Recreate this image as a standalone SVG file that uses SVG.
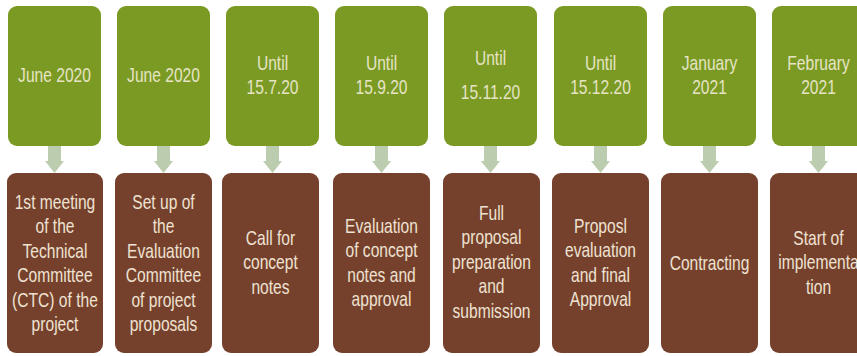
<svg xmlns="http://www.w3.org/2000/svg" width="857" height="356" viewBox="0 0 857 356">
<style>
.g{fill:#7A9A24}
.b{fill:#76412C}
.t{font-family:"Liberation Sans",Arial,sans-serif;font-size:20px;text-anchor:middle}
.tg{fill:#E6E4C4}
.tb{fill:#EEE2D2}
.ar{fill:#BCCCAE}
</style>
<rect width="857" height="356" fill="#FFFFFF"/>
<g id="connectors">
<polygon class="ar" points="48,146 61,146 61,161 64,161 54.5,173 45,161 48,161"/>
<polygon class="ar" points="157,146 170,146 170,161 173,161 163.5,173 154,161 157,161"/>
<polygon class="ar" points="266,146 279,146 279,161 282,161 272.5,173 263,161 266,161"/>
<polygon class="ar" points="375,146 388,146 388,161 391,161 381.5,173 372,161 375,161"/>
<polygon class="ar" points="484,146 497,146 497,161 500,161 490.5,173 481,161 484,161"/>
<polygon class="ar" points="594,146 607,146 607,161 610,161 600.5,173 591,161 594,161"/>
<polygon class="ar" points="703,146 716,146 716,161 719,161 709.5,173 700,161 703,161"/>
<polygon class="ar" points="812,146 825,146 825,161 828,161 818.5,173 809,161 812,161"/>
</g>
<g id="date1"><rect class="g" x="8" y="6" width="93" height="140" rx="9"/>
<text class="t tg" transform="translate(54.5,0) scale(0.78,1)"><tspan x="0" y="82">June 2020</tspan></text></g>
<g id="date2"><rect class="g" x="117" y="6" width="93" height="140" rx="9"/>
<text class="t tg" transform="translate(163.5,0) scale(0.78,1)"><tspan x="0" y="82">June 2020</tspan></text></g>
<g id="date3"><rect class="g" x="226" y="6" width="93" height="140" rx="9"/>
<text class="t tg" transform="translate(272.5,0) scale(0.78,1)"><tspan x="0" y="70">Until</tspan><tspan x="0" y="94">15.7.20</tspan></text></g>
<g id="date4"><rect class="g" x="335" y="6" width="93" height="140" rx="9"/>
<text class="t tg" transform="translate(381.5,0) scale(0.78,1)"><tspan x="0" y="70">Until</tspan><tspan x="0" y="94">15.9.20</tspan></text></g>
<g id="date5"><rect class="g" x="444" y="6" width="93" height="140" rx="9"/>
<text class="t tg" transform="translate(490.5,0) scale(0.78,1)"><tspan x="0" y="65">Until</tspan><tspan x="0" y="99">15.11.20</tspan></text></g>
<g id="date6"><rect class="g" x="554" y="6" width="93" height="140" rx="9"/>
<text class="t tg" transform="translate(600.5,0) scale(0.78,1)"><tspan x="0" y="70">Until</tspan><tspan x="0" y="94">15.12.20</tspan></text></g>
<g id="date7"><rect class="g" x="663" y="6" width="93" height="140" rx="9"/>
<text class="t tg" transform="translate(709.5,0) scale(0.78,1)"><tspan x="0" y="70">January</tspan><tspan x="0" y="94">2021</tspan></text></g>
<g id="date8"><rect class="g" x="772" y="6" width="93" height="140" rx="9"/>
<text class="t tg" transform="translate(818.5,0) scale(0.78,1)"><tspan x="0" y="70">February</tspan><tspan x="0" y="94">2021</tspan></text></g>
<g id="step1"><rect class="b" x="7" y="173" width="96" height="180" rx="9"/>
<text class="t tb" transform="translate(55,0) scale(0.78,1)"><tspan x="0" y="209">1st meeting</tspan><tspan x="0" y="233.5">of the</tspan><tspan x="0" y="258">Technical</tspan><tspan x="0" y="282.5">Committee</tspan><tspan x="0" y="307">(CTC) of the</tspan><tspan x="0" y="331.5">project</tspan></text></g>
<g id="step2"><rect class="b" x="115" y="173" width="97" height="180" rx="9"/>
<text class="t tb" transform="translate(163.5,0) scale(0.78,1)"><tspan x="0" y="209">Set up of</tspan><tspan x="0" y="233.5">the</tspan><tspan x="0" y="258">Evaluation</tspan><tspan x="0" y="282.5">Committee</tspan><tspan x="0" y="307">of project</tspan><tspan x="0" y="331.5">proposals</tspan></text></g>
<g id="step3"><rect class="b" x="222" y="173" width="97" height="180" rx="9"/>
<text class="t tb" transform="translate(270.5,0) scale(0.78,1)"><tspan x="0" y="245">Call for</tspan><tspan x="0" y="269.5">concept</tspan><tspan x="0" y="294">notes</tspan></text></g>
<g id="step4"><rect class="b" x="333" y="173" width="97" height="180" rx="9"/>
<text class="t tb" transform="translate(381.5,0) scale(0.78,1)"><tspan x="0" y="233">Evaluation</tspan><tspan x="0" y="257.5">of concept</tspan><tspan x="0" y="282">notes and</tspan><tspan x="0" y="306.5">approval</tspan></text></g>
<g id="step5"><rect class="b" x="443" y="173" width="97" height="180" rx="9"/>
<text class="t tb" transform="translate(491.5,0) scale(0.78,1)"><tspan x="0" y="220">Full</tspan><tspan x="0" y="244.5">proposal</tspan><tspan x="0" y="269">preparation</tspan><tspan x="0" y="293.5">and</tspan><tspan x="0" y="318">submission</tspan></text></g>
<g id="step6"><rect class="b" x="552" y="173" width="97" height="180" rx="9"/>
<text class="t tb" transform="translate(600.5,0) scale(0.78,1)"><tspan x="0" y="233">Proposl</tspan><tspan x="0" y="257.5">evaluation</tspan><tspan x="0" y="282">and final</tspan><tspan x="0" y="306.5">Approval</tspan></text></g>
<g id="step7"><rect class="b" x="661" y="173" width="97" height="180" rx="9"/>
<text class="t tb" transform="translate(709.5,0) scale(0.78,1)"><tspan x="0" y="270">Contracting</tspan></text></g>
<g id="step8"><rect class="b" x="770" y="173" width="97" height="180" rx="9"/>
<text class="t tb" transform="translate(818.5,0) scale(0.78,1)"><tspan x="0" y="245">Start of</tspan><tspan x="0" y="269.5">implementa</tspan><tspan x="0" y="294">tion</tspan></text></g>
</svg>
